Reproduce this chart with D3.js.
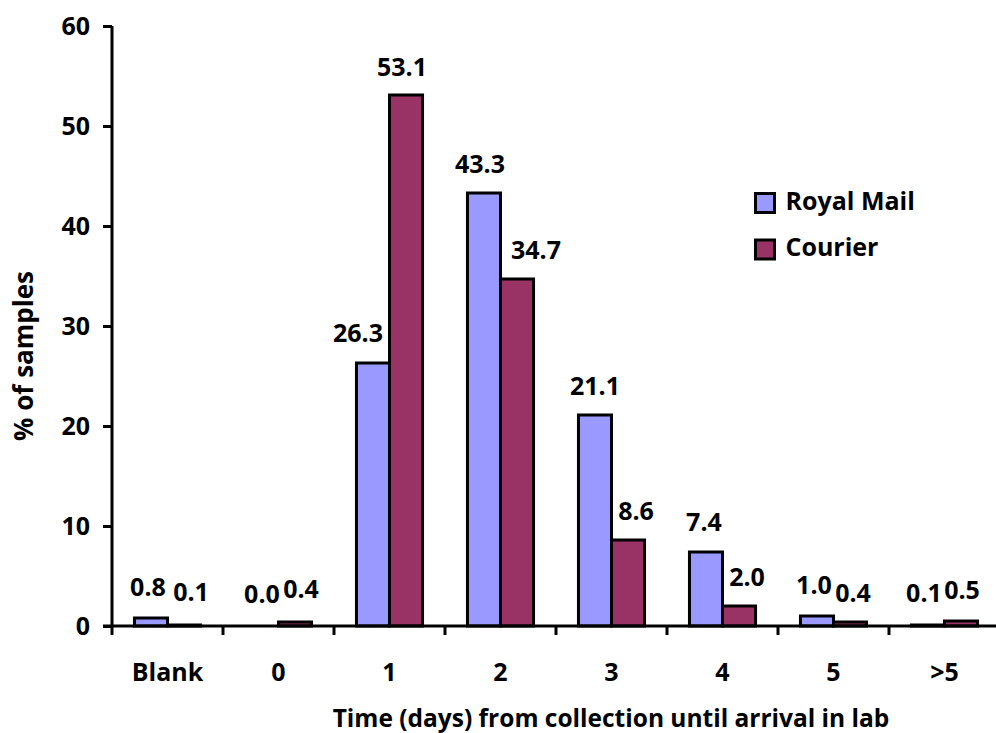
<!DOCTYPE html>
<html>
<head>
<meta charset="utf-8">
<script src="https://cdn.jsdelivr.net/npm/d3@7"></script>
<style>
  html, body { margin: 0; padding: 0; background: #fff; }
  svg text { font-family: "Open Sans", Lato, "DejaVu Sans", sans-serif; font-weight: 700; fill: #000; }
</style>
</head>
<body>
<svg id="chart" width="996" height="733"></svg>
<script>
const categories = ["Blank", "0", "1", "2", "3", "4", "5", ">5"];
const royalMail = [0.8, 0.0, 26.3, 43.3, 21.1, 7.4, 1.0, 0.1];
const courier = [0.1, 0.4, 53.1, 34.7, 8.6, 2.0, 0.4, 0.5];
const seriesNames = ["Royal Mail", "Courier"];
const seriesColors = ["#9999FF", "#993366"];
const yTicks = [0, 10, 20, 30, 40, 50, 60];
// hand-placed label nudges (px) so neighbouring labels don't collide
const labelDx = [[-3, 0, -15, -4, 0, -2, -3, -4], [7, 6, -4, 19, 8, 8, 3, 1]];
const labelDy = [[-2, -3, -1, 0, 0, -1, -2, -3], [-4, -4, 1, 0, 0, 0, 0, -2]];

const svg = d3.select("#chart");
const margin = { left: 112, right: -4, top: 26, bottom: 107 };
const W = 996, H = 733;
const FS = 25;

const x = d3.scaleBand().domain(categories).range([margin.left, W - margin.right]);
const xs = d3.scaleBand().domain(seriesNames).range([0, x.bandwidth()]).paddingInner(0).paddingOuter(0.68);
const y = d3.scaleLinear().domain([0, 60]).range([H - margin.bottom, margin.top]);

const rows = categories.map((c, i) => ({ cat: c, values: [royalMail[i], courier[i]] }));

// bars with value labels
const g = svg.append("g");
rows.forEach((r, i) => {
  r.values.forEach((v, s) => {
    const bx = x(r.cat) + xs(seriesNames[s]);
    g.append("rect")
      .attr("x", bx)
      .attr("y", y(v))
      .attr("width", xs.bandwidth())
      .attr("height", y(0) - y(v))
      .attr("fill", seriesColors[s])
      .attr("stroke", "#000")
      .attr("stroke-width", 3);
    g.append("text")
      .attr("x", bx + xs.bandwidth() / 2 + labelDx[s][i])
      .attr("y", y(v) - 20 + labelDy[s][i])
      .attr("text-anchor", "middle")
      .attr("font-size", FS)
      .text(v.toFixed(1));
  });
});

// y axis
const yAxis = svg.append("g")
  .attr("transform", `translate(${margin.left},0)`)
  .call(d3.axisLeft(y).tickValues(yTicks).tickSize(9).tickPadding(13));
yAxis.select(".domain").attr("stroke-width", 3).attr("d", `M0,${y(60)}V${y(0)}`);
yAxis.selectAll(".tick line").attr("stroke-width", 3);
yAxis.selectAll(".tick text").attr("font-size", FS).attr("font-family", null);

// x axis
const xAxis = svg.append("g")
  .attr("transform", `translate(0,${y(0)})`);
xAxis.append("line")
  .attr("x1", margin.left - 9).attr("x2", W)
  .attr("stroke", "#000").attr("stroke-width", 3);
const bounds = categories.map(c => x(c)).concat([x(categories[categories.length - 1]) + x.bandwidth()]);
xAxis.selectAll("line.tk").data(bounds).enter().append("line")
  .attr("class", "tk")
  .attr("x1", d => d).attr("x2", d => d)
  .attr("y1", 0).attr("y2", 9)
  .attr("stroke", "#000").attr("stroke-width", 3);
xAxis.selectAll("text.cat").data(categories).enter().append("text")
  .attr("class", "cat")
  .attr("x", d => x(d) + x.bandwidth() / 2)
  .attr("y", 55)
  .attr("text-anchor", "middle")
  .attr("font-size", FS)
  .text(d => d);

// axis titles
svg.append("text")
  .attr("x", 611).attr("y", 727)
  .attr("text-anchor", "middle")
  .attr("font-size", 24.5)
  .text("Time (days) from collection until arrival in lab");
svg.append("text")
  .attr("transform", "translate(33,356) rotate(-90)")
  .attr("text-anchor", "middle")
  .attr("font-size", 26)
  .text("% of samples");

// legend
const legend = svg.append("g").attr("transform", "translate(755.5,193.5)");
seriesNames.forEach((n, i) => {
  legend.append("rect")
    .attr("x", 0).attr("y", i * 46.5)
    .attr("width", 19).attr("height", 19)
    .attr("fill", seriesColors[i])
    .attr("stroke", "#000").attr("stroke-width", 3);
  legend.append("text")
    .attr("x", 30).attr("y", i * 46.5 + 16)
    .attr("font-size", FS)
    .text(n);
});
</script>
</body>
</html>
